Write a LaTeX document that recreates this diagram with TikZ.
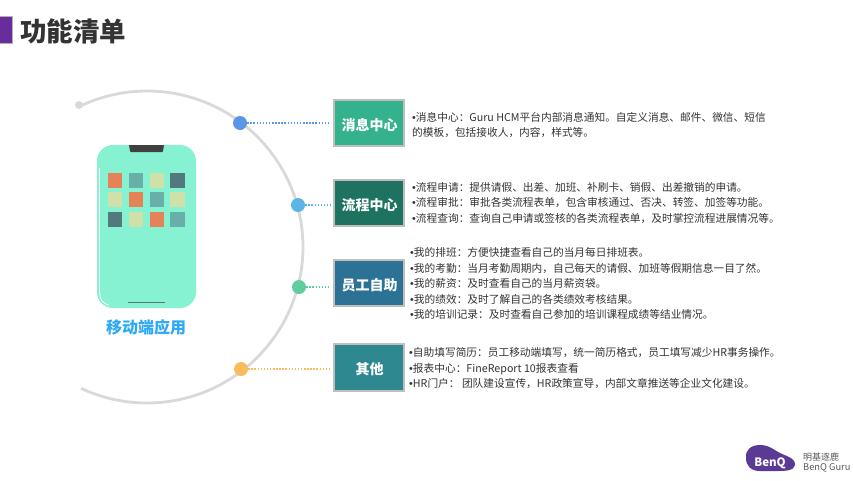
\documentclass[tikz,border=0pt]{standalone}
\usepackage{fontspec}
\setmainfont{Noto Sans CJK SC}
\newfontfamily\bulletfont{Liberation Sans}
\newcommand{\bul}{{\bulletfont •}}
\newcommand{\lineblock}[1]{\begin{tabular}{@{}l@{}}#1\end{tabular}}
\newcommand{\boxlabel}[1]{\hspace{1pt}\raisebox{-1.8pt}[\height][\depth]{#1}}
\definecolor{arcgray}{HTML}{D9D9D9}
\definecolor{txt}{HTML}{333333}
\definecolor{sqO}{HTML}{E58256}
\definecolor{sqT}{HTML}{68AFA8}
\definecolor{sqP}{HTML}{CFE0A8}
\definecolor{sqD}{HTML}{52797C}
\definecolor{phone}{HTML}{86F2D2}
\definecolor{cA}{HTML}{34B28E}
\definecolor{cB}{HTML}{1D7260}
\definecolor{cC}{HTML}{2C7295}
\definecolor{cD}{HTML}{2D8890}
\definecolor{dA}{HTML}{5B96E6}
\definecolor{dB}{HTML}{5DB5E6}
\definecolor{dC}{HTML}{5FCD9D}
\definecolor{dD}{HTML}{F8BB5D}
\definecolor{logo}{HTML}{5B3A96}
\tikzset{
  x=1pt,y=-1pt,
  catbox/.style={draw=black!25,line width=1.6pt,minimum width=70pt,minimum height=46.5pt,inner sep=0pt,text=white,font=\fontsize{14}{16}\selectfont\bfseries},
  dotnode/.style={circle,inner sep=0pt,minimum size=14pt},
  link/.style={line width=1.5pt,dash pattern=on 1.5pt off 1.6pt,shorten >=3pt},
  desc/.style={anchor=west,inner sep=0pt,text=txt,font=\fontsize{10.7}{15.6}\selectfont},
  sq/.style={minimum size=14.5pt,inner sep=0pt,anchor=center},
}
\begin{document}
\begin{tikzpicture}
\useasboundingbox (0,0) rectangle (853,480);
% title
\fill[fill=black!30] (0,16) rectangle (13,44);
\fill[fill={rgb,255:red,106;green,44;blue,156}] (0,17) rectangle (11.5,43);
\node[anchor=west,inner sep=0pt,text=black!80,font=\fontsize{26.5}{28}\selectfont\bfseries] (title) at (20,31) {功能清单};
% arc
\draw[arcgray,line width=2.8pt] plot[smooth,domain=-115:115,samples=60] ({147+156*cos(\x)},{247+156*sin(\x)});
\node[circle,fill=arcgray,inner sep=0pt,minimum size=8pt] (arcstart) at (79,105) {};
% phone
\fill[phone,rounded corners=16pt] (97,145) rectangle (196,308);
\fill[black!75] (129,145) -- (164,145) -- (163,151) -- (162,152) -- (131,152) -- (130,151) -- cycle;
\draw[white,line width=0.8pt] (99.5,168) -- (99.5,290) .. controls (99.5,300) and (103,304) .. (109,305);
\draw[sqD,line width=0.8pt] (128,302) -- (165,302);
\node[sq,fill=sqO] (s11) at (115,180.5) {};
\node[sq,fill=sqT] (s12) at (136,180.5) {};
\node[sq,fill=sqP] (s13) at (157,180.5) {};
\node[sq,fill=sqD] (s14) at (177.5,180.5) {};
\node[sq,fill=sqP] (s21) at (115,199.5) {};
\node[sq,fill=sqO] (s22) at (136,199.5) {};
\node[sq,fill=sqT] (s23) at (157,199.5) {};
\node[sq,fill=sqP] (s24) at (177.5,199.5) {};
\node[sq,fill=sqD] (s31) at (115,219.5) {};
\node[sq,fill=sqP] (s32) at (136,219.5) {};
\node[sq,fill=sqO] (s33) at (157,219.5) {};
\node[sq,fill=sqT] (s34) at (177.5,219.5) {};
\node[inner sep=0pt,text={rgb,255:red,45;green,169;blue,245},font=\fontsize{16}{18}\selectfont\bfseries] (applabel) at (146,327) {移动端应用};
% category boxes
\node[catbox,fill=cA] (b1) at (369,123) {\boxlabel{消息中心}};
\node[catbox,fill=cB] (b2) at (369,203) {\boxlabel{流程中心}};
\node[catbox,fill=cC] (b3) at (369,283) {\boxlabel{员工自助}};
\node[catbox,fill=cD] (b4) at (369,367.5) {\boxlabel{其他}};
% dots
\node[dotnode,fill=dA] (d1) at (240,123) {};
\node[dotnode,fill=dB] (d2) at (298,205) {};
\node[dotnode,fill=dC] (d3) at (299,287) {};
\node[dotnode,fill=dD] (d4) at (241,369) {};
\draw[link,dA] (d1) -- (b1.west|-d1);
\draw[link,dB] (d2) -- (b2.west|-d2);
\draw[link,dC] (d3) -- (b3.west|-d3);
\draw[link,dD] (d4) -- (b4.west|-d4);
% descriptions
\node[desc] (t1) at (412,126) {\lineblock{\bul 消息中心：Guru HCM平台内部消息通知。自定义消息、邮件、微信、短信\\的模板，包括接收人，内容，样式等。}};
\node[desc] (t2) at (412,203.5) {\lineblock{\bul 流程申请：提供请假、出差、加班、补刷卡、销假、出差撤销的申请。\\\bul 流程审批：审批各类流程表单，包含审核通过、否决、转签、加签等功能。\\\bul 流程查询：查询自己申请或签核的各类流程表单，及时掌控流程进展情况等。}};
\node[desc] (t3) at (410,284.5) {\lineblock{\bul 我的排班：方便快捷查看自己的当月每日排班表。\\\bul 我的考勤：当月考勤周期内，自己每天的请假、加班等假期信息一目了然。\\\bul 我的薪资：及时查看自己的当月薪资袋。\\\bul 我的绩效：及时了解自己的各类绩效考核结果。\\\bul 我的培训记录：及时查看自己参加的培训课程成绩等结业情况。}};
\node[desc] (t4) at (409,369) {\lineblock{\bul 自助填写简历：员工移动端填写，统一简历格式，员工填写减少HR事务操作。\\\bul 报表中心：FineReport 10报表查看\\\bul HR门户： 团队建设宣传，HR政策宣导，内部文章推送等企业文化建设。}};
% logo
\fill[logo] (746,458) .. controls (745,449) and (752,445) .. (760,445) .. controls (770,445) and (775,451) .. (782,454) .. controls (790,457) and (796,460) .. (795,465) .. controls (794,471) and (785,471) .. (775,471) -- (760,471) .. controls (751,471) and (746,466) .. (746,458) -- cycle;
\node[inner sep=0pt,text=white,font=\fontsize{11.5}{12}\selectfont\bfseries] (bq) at (770,463) {BenQ};
\node[anchor=west,inner sep=0pt,text=black!65,font=\fontsize{9}{10}\selectfont] (l1) at (803,457) {明基逐鹿};
\node[anchor=west,inner sep=0pt,text=black!65,font=\fontsize{9.3}{10}\selectfont] (l2) at (803,468) {BenQ Guru};
\end{tikzpicture}
\end{document}
